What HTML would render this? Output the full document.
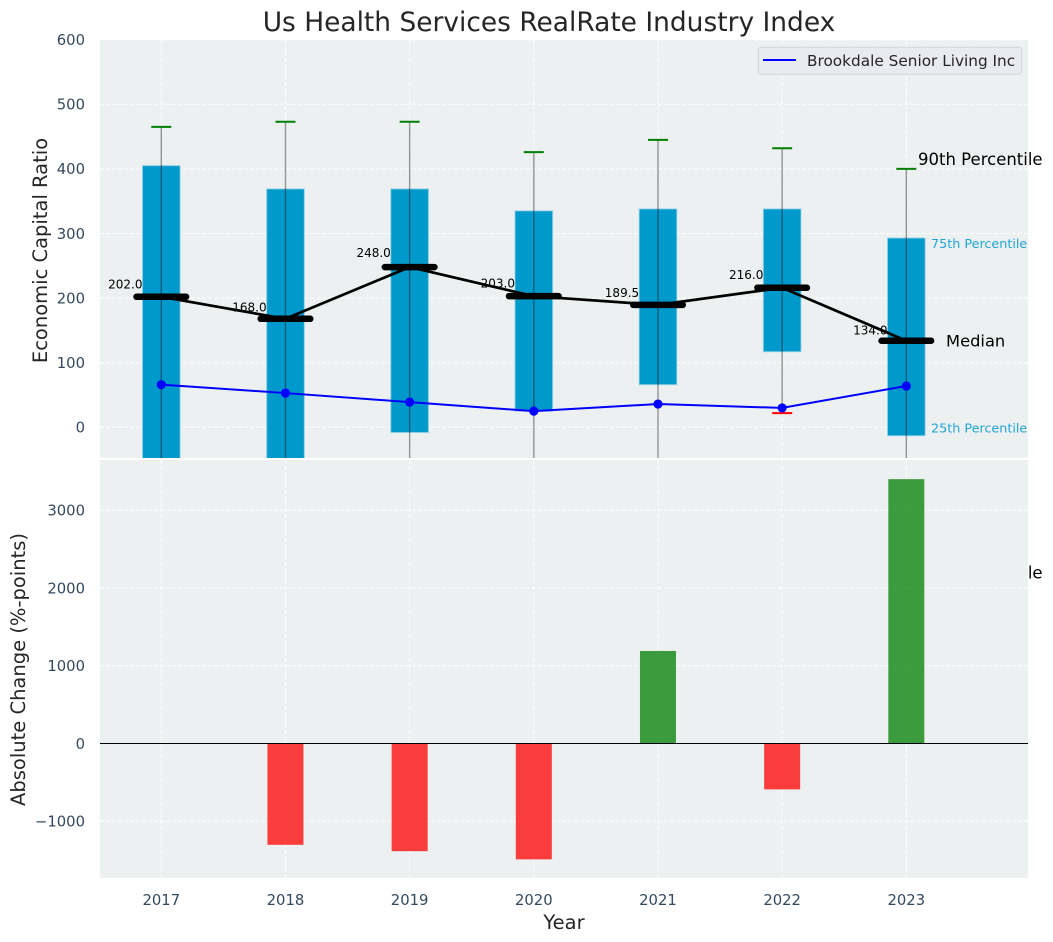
<!DOCTYPE html>
<html lang="en">
<head>
<meta charset="utf-8">
<title>Us Health Services RealRate Industry Index</title>
<style>
html,body{margin:0;padding:0;background:#fff;}
svg{display:block;font-family:"DejaVu Sans","Liberation Sans",sans-serif;}
</style>
</head>
<body>
<svg id="chart" xmlns="http://www.w3.org/2000/svg" width="1053" height="942" viewBox="0 0 1053 942">
  <defs>
    <clipPath id="clip-top"><rect x="100" y="40" width="928" height="418"/></clipPath>
    <clipPath id="clip-bottom"><rect x="100" y="460" width="928" height="418"/></clipPath>
  </defs>
  <text x="549" y="31" text-anchor="middle" font-size="26.45" fill="#262626">Us Health Services RealRate Industry Index</text>
  <text transform="translate(47,250.5) rotate(-90)" text-anchor="middle" font-size="19.5" fill="#262626">Economic Capital Ratio</text>
  <text transform="translate(25,669.5) rotate(-90)" text-anchor="middle" font-size="19.5" fill="#262626">Absolute Change (%-points)</text>
  <text x="564" y="929" text-anchor="middle" font-size="19.5" fill="#262626">Year</text>
  <g id="annotations-under"></g>
  <rect x="100" y="40" width="928" height="418" fill="#ecf0f1"/>
  <rect x="100" y="460" width="928" height="418" fill="#ecf0f1"/>
  <g id="grid"></g>
  <g id="top-plot" clip-path="url(#clip-top)"></g>
  <g id="bottom-plot" clip-path="url(#clip-bottom)"></g>
  <g id="tick-labels"></g>
  <g id="annotations"></g>
  <g>
    <rect x="758.3" y="47.3" width="263.4" height="27" rx="3" fill="#eaebf0" stroke="#d2d4d6" stroke-width="1"/>
    <line x1="763" y1="60" x2="796" y2="60" stroke="#0000ff" stroke-width="2"/>
    <text x="807" y="66" font-size="15.3" fill="#262626">Brookdale Senior Living Inc</text>
  </g>
</svg>
<script>
const years = [2017, 2018, 2019, 2020, 2021, 2022, 2023];
const p90 = [465, 473, 473, 426, 445, 432, 400];
const p75 = [405, 369, 369, 335, 338, 338, 293];
const medians = [202, 168, 248, 203, 189.5, 216, 134];
const p25 = [-80, -75, -8, 25, 66, 117, -13];
const p10 = [-210, -220, -190, -150, -110, 22, -240];
const company = [66, 53, 39, 25, 36, 30, 64];
const changes = [null, -1303, -1385, -1490, 1190, -590, 3400];
const topTicks = [0, 100, 200, 300, 400, 500, 600];
const bottomTicks = [-1000, 0, 1000, 2000, 3000];

const NS = 'http://www.w3.org/2000/svg';
function x(year) { return 161.3 + (year - 2017) * 124.17; }
function yTop(v) { return 427.3 - v * 0.646; }
function yBottom(v) { return 743.5 - v * 0.07775; }
function make(parent, tag, attrs, text) {
  const el = document.createElementNS(NS, tag);
  for (const k in attrs) el.setAttribute(k, attrs[k]);
  if (text !== undefined) el.textContent = text;
  parent.appendChild(el);
  return el;
}
function fmtTick(v) { return v < 0 ? '\u2212' + Math.abs(v) : String(v); }

const grid = document.getElementById('grid');
const topPlot = document.getElementById('top-plot');
const bottomPlot = document.getElementById('bottom-plot');
const tickLabels = document.getElementById('tick-labels');
const notes = document.getElementById('annotations');
const under = document.getElementById('annotations-under');
const gridStyle = { stroke: '#ffffff', 'stroke-width': 1, 'stroke-dasharray': '4 2', opacity: 0.9 };

topTicks.forEach(function (t) {
  const yy = yTop(t);
  const g = make(grid, 'line', Object.assign({ x1: 100, x2: 1028, y1: yy, y2: yy }, gridStyle));
  
  
  const l = make(tickLabels, 'text', { x: 85, y: yy + 5.3, 'text-anchor': 'end', 'font-size': 14.8, fill: '#34495e' }, fmtTick(t));
  
  
});
bottomTicks.forEach(function (t) {
  const yy = yBottom(t);
  const g = make(grid, 'line', Object.assign({ x1: 100, x2: 1028, y1: yy, y2: yy }, gridStyle));
  
  
  const l = make(tickLabels, 'text', { x: 85, y: yy + 5.3, 'text-anchor': 'end', 'font-size': 14.8, fill: '#34495e' }, fmtTick(t));
  
  
});
years.forEach(function (yr) {
  const g1 = make(grid, 'line', Object.assign({ x1: x(yr), x2: x(yr), y1: 40, y2: 458 }, gridStyle));
  
  
  const g2 = make(grid, 'line', Object.assign({ x1: x(yr), x2: x(yr), y1: 460, y2: 878 }, gridStyle));
  
  
  const l = make(tickLabels, 'text', { x: x(yr), y: 905, 'text-anchor': 'middle', 'font-size': 14.8, fill: '#34495e' }, String(yr));
  
  
});

/* percentile boxes */
years.forEach(function (yr, i) {
  const top = yTop(p75[i]);
  const bot = yTop(p25[i]);
  const box = make(topPlot, 'rect', { x: x(yr) - 18.8, y: top, width: 37.6, height: bot - top, fill: '#0099cc', stroke: '#8fd0e6', 'stroke-opacity': 0.8, 'stroke-width': 1 });
  
  
});
/* whiskers and caps */
years.forEach(function (yr, i) {
  const w = make(topPlot, 'line', { x1: x(yr), x2: x(yr), y1: yTop(p90[i]), y2: yTop(p10[i]), stroke: '#000000', 'stroke-opacity': 0.4, 'stroke-width': 1.4 });
  
  
  const c1 = make(topPlot, 'line', { x1: x(yr) - 10, x2: x(yr) + 10, y1: yTop(p90[i]), y2: yTop(p90[i]), stroke: '#008000', 'stroke-width': 2 });
  
  
  const c2 = make(topPlot, 'line', { x1: x(yr) - 10, x2: x(yr) + 10, y1: yTop(p10[i]), y2: yTop(p10[i]), stroke: '#ff0000', 'stroke-width': 2 });
  
  
});
/* median connecting line */
const medianPts = years.map(function (yr, i) { return x(yr) + ',' + yTop(medians[i]); }).join(' ');
const medianLine = make(topPlot, 'polyline', { points: medianPts, fill: 'none', stroke: '#000000', 'stroke-width': 2.7 });


years.forEach(function (yr, i) {
  const m = make(topPlot, 'line', { x1: x(yr) - 24.8, x2: x(yr) + 24.8, y1: yTop(medians[i]), y2: yTop(medians[i]), stroke: '#000000', 'stroke-width': 6.5, 'stroke-linecap': 'round' });
  
  
  const t = make(topPlot, 'text', { x: x(yr) - 36, y: yTop(medians[i] * 1.05) - 2, 'text-anchor': 'middle', 'font-size': 12, fill: '#000000' }, medians[i].toFixed(1));
  
  
});
/* company series */
const companyPts = years.map(function (yr, i) { return x(yr) + ',' + yTop(company[i]); }).join(' ');
const companyLine = make(topPlot, 'polyline', { points: companyPts, fill: 'none', stroke: '#0000ff', 'stroke-width': 2 });


years.forEach(function (yr, i) {
  const p = make(topPlot, 'circle', { cx: x(yr), cy: yTop(company[i]), r: 4.6, fill: '#0000ff' });
  
  
});

/* absolute change bars */
years.forEach(function (yr, i) {
  if (changes[i] === null) return;
  const y0 = yBottom(0);
  const y1 = yBottom(changes[i]);
  const b = make(bottomPlot, 'rect', { x: x(yr) - 18, y: Math.min(y0, y1), width: 36, height: Math.abs(y1 - y0), fill: changes[i] >= 0 ? '#008000' : '#ff0000', 'fill-opacity': 0.75 });
  
  
});
const zeroLine = make(bottomPlot, 'line', { x1: 100, x2: 1028, y1: yBottom(0), y2: yBottom(0), stroke: '#000000', 'stroke-width': 1 });



/* percentile annotations on the last year */
const last = years.length - 1;
const lastX = x(years[last]);
const n90 = make(notes, 'text', { x: lastX + 11.7, y: yTop(p90[last]) - 4, 'font-size': 16.5, fill: '#000000' }, '90th Percentile');


const n75 = make(notes, 'text', { x: lastX + 24.7, y: yTop(p75[last]) + 10, 'font-size': 12.75, fill: '#1fa6d6' }, '75th Percentile');


const nMed = make(notes, 'text', { x: lastX + 39.7, y: yTop(medians[last]) + 5.7, 'font-size': 16.3, fill: '#000000' }, 'Median');


const n25 = make(notes, 'text', { x: lastX + 24.7, y: yTop(p25[last]) - 3, 'font-size': 12.75, fill: '#1fa6d6' }, '25th Percentile');


const n10 = make(under, 'text', { x: lastX + 11.7, y: yTop(p10[last]) - 4, 'font-size': 16.5, fill: '#000000' }, '10th Percentile');


</script>
</body>
</html>
